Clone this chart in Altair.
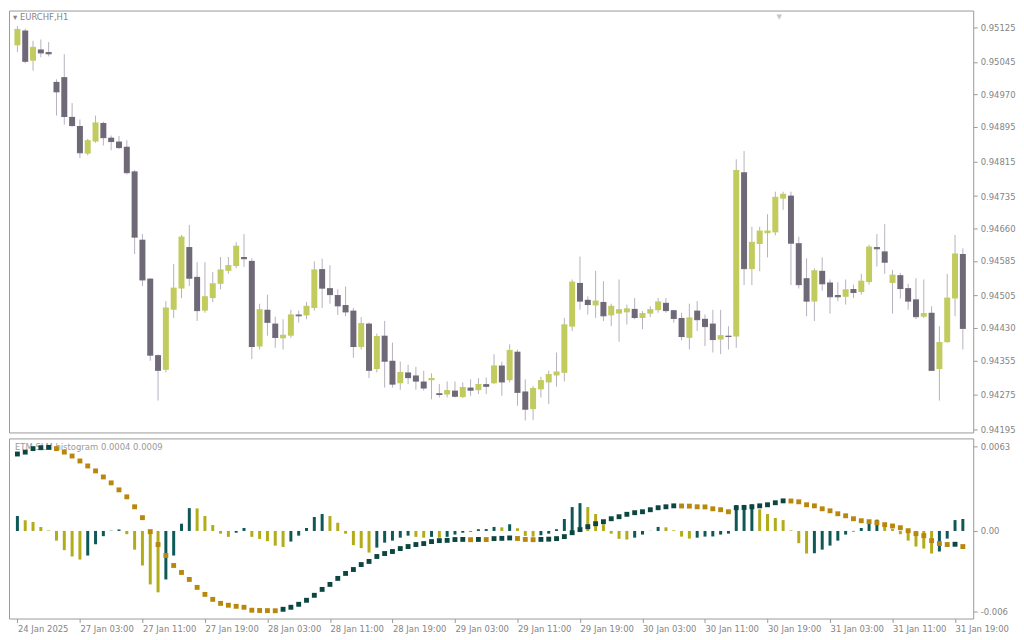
import json
import altair as alt
import pandas as pd

# ---------------- data (EURCHF, H1) ----------------
opens = [0.95084, 0.95118, 0.95048, 0.95074, 0.95068, 0.94999, 0.95010, 0.94918, 0.94897, 0.94833,
         0.94861, 0.94904, 0.94870, 0.94861, 0.94849, 0.94792, 0.94634, 0.94544, 0.94367, 0.94333,
         0.94472, 0.94521, 0.94617, 0.94548, 0.94470, 0.94499, 0.94532, 0.94562, 0.94573, 0.94594,
         0.94585, 0.94387, 0.94472, 0.94440, 0.94406, 0.94412, 0.94461, 0.94459, 0.94476, 0.94566,
         0.94522, 0.94506, 0.94483, 0.94470, 0.94386, 0.94440, 0.94335, 0.94412, 0.94354, 0.94302,
         0.94327, 0.94320, 0.94306, 0.94309, 0.94279, 0.94276, 0.94285, 0.94270, 0.94292, 0.94286,
         0.94300, 0.94302, 0.94343, 0.94309, 0.94375, 0.94283, 0.94242, 0.94288, 0.94304, 0.94320,
         0.94326, 0.94433, 0.94534, 0.94495, 0.94482, 0.94490, 0.94459, 0.94463, 0.94466, 0.94474,
         0.94453, 0.94463, 0.94471, 0.94488, 0.94471, 0.94453, 0.94407, 0.94470, 0.94451, 0.94440,
         0.94403, 0.94412, 0.94410, 0.94790, 0.94566, 0.94624, 0.94649, 0.94651, 0.94729, 0.94736,
         0.94626, 0.94545, 0.94491, 0.94562, 0.94535, 0.94506, 0.94502, 0.94520, 0.94513, 0.94536,
         0.94617, 0.94607, 0.94534, 0.94552, 0.94522, 0.94496, 0.94456, 0.94465, 0.94335, 0.94397,
         0.94498, 0.94601]
highs = [0.95128, 0.95122, 0.95094, 0.95097, 0.95091, 0.95005, 0.95063, 0.94950, 0.94912, 0.94867,
         0.94921, 0.94907, 0.94875, 0.94874, 0.94864, 0.94795, 0.94647, 0.94545, 0.94369, 0.94492,
         0.94578, 0.94645, 0.94668, 0.94582, 0.94582, 0.94559, 0.94594, 0.94594, 0.94628, 0.94647,
         0.94591, 0.94486, 0.94507, 0.94456, 0.94450, 0.94472, 0.94470, 0.94490, 0.94584, 0.94590,
         0.94575, 0.94519, 0.94526, 0.94476, 0.94455, 0.94443, 0.94417, 0.94446, 0.94396, 0.94352,
         0.94345, 0.94340, 0.94331, 0.94325, 0.94300, 0.94306, 0.94306, 0.94304, 0.94311, 0.94314,
         0.94315, 0.94369, 0.94352, 0.94392, 0.94380, 0.94311, 0.94296, 0.94317, 0.94331, 0.94373,
         0.94453, 0.94542, 0.94595, 0.94503, 0.94562, 0.94538, 0.94486, 0.94542, 0.94484, 0.94499,
         0.94469, 0.94480, 0.94499, 0.94499, 0.94472, 0.94465, 0.94486, 0.94492, 0.94461, 0.94472,
         0.94472, 0.94434, 0.94820, 0.94839, 0.94664, 0.94664, 0.94693, 0.94745, 0.94745, 0.94745,
         0.94641, 0.94591, 0.94568, 0.94593, 0.94542, 0.94536, 0.94542, 0.94530, 0.94555, 0.94622,
         0.94647, 0.94670, 0.94564, 0.94557, 0.94532, 0.94545, 0.94542, 0.94480, 0.94434, 0.94555,
         0.94645, 0.94614]
lows = [0.95068, 0.95042, 0.95025, 0.95056, 0.95058, 0.94921, 0.94900, 0.94895, 0.94823, 0.94829,
        0.94858, 0.94852, 0.94841, 0.94844, 0.94785, 0.94601, 0.94527, 0.94354, 0.94262, 0.94327,
        0.94453, 0.94499, 0.94527, 0.94446, 0.94465, 0.94490, 0.94519, 0.94555, 0.94568, 0.94571,
        0.94358, 0.94380, 0.94412, 0.94384, 0.94380, 0.94407, 0.94442, 0.94450, 0.94470, 0.94476,
        0.94486, 0.94460, 0.94457, 0.94361, 0.94380, 0.94314, 0.94327, 0.94292, 0.94292, 0.94287,
        0.94300, 0.94287, 0.94285, 0.94265, 0.94269, 0.94269, 0.94269, 0.94268, 0.94273, 0.94277,
        0.94277, 0.94300, 0.94273, 0.94304, 0.94250, 0.94216, 0.94217, 0.94269, 0.94254, 0.94294,
        0.94306, 0.94423, 0.94472, 0.94461, 0.94453, 0.94446, 0.94434, 0.94398, 0.94438, 0.94450,
        0.94427, 0.94455, 0.94465, 0.94465, 0.94442, 0.94401, 0.94380, 0.94423, 0.94388, 0.94373,
        0.94369, 0.94380, 0.94384, 0.94529, 0.94529, 0.94561, 0.94593, 0.94644, 0.94703, 0.94529,
        0.94521, 0.94457, 0.94446, 0.94516, 0.94463, 0.94492, 0.94484, 0.94499, 0.94507, 0.94530,
        0.94572, 0.94555, 0.94463, 0.94498, 0.94472, 0.94450, 0.94453, 0.94331, 0.94262, 0.94396,
        0.94457, 0.94380]
closes = [0.95120, 0.95047, 0.95079, 0.95066, 0.95064, 0.94976, 0.94919, 0.94898, 0.94835, 0.94863,
          0.94904, 0.94870, 0.94861, 0.94847, 0.94789, 0.94640, 0.94541, 0.94367, 0.94332, 0.94476,
          0.94522, 0.94640, 0.94545, 0.94470, 0.94502, 0.94532, 0.94564, 0.94574, 0.94619, 0.94590,
          0.94387, 0.94472, 0.94443, 0.94408, 0.94413, 0.94460, 0.94458, 0.94480, 0.94564, 0.94522,
          0.94507, 0.94481, 0.94467, 0.94387, 0.94440, 0.94332, 0.94410, 0.94353, 0.94300, 0.94327,
          0.94315, 0.94307, 0.94291, 0.94313, 0.94276, 0.94285, 0.94272, 0.94292, 0.94286, 0.94299,
          0.94295, 0.94342, 0.94305, 0.94378, 0.94281, 0.94242, 0.94290, 0.94308, 0.94322, 0.94328,
          0.94437, 0.94536, 0.94492, 0.94484, 0.94492, 0.94458, 0.94480, 0.94472, 0.94474, 0.94454,
          0.94463, 0.94472, 0.94490, 0.94470, 0.94452, 0.94410, 0.94453, 0.94449, 0.94433, 0.94403,
          0.94412, 0.94410, 0.94794, 0.94567, 0.94628, 0.94654, 0.94654, 0.94732, 0.94739, 0.94626,
          0.94530, 0.94492, 0.94562, 0.94532, 0.94502, 0.94502, 0.94518, 0.94512, 0.94538, 0.94617,
          0.94613, 0.94582, 0.94552, 0.94521, 0.94492, 0.94456, 0.94463, 0.94332, 0.94396, 0.94499,
          0.94601, 0.94429]

# indicator: histogram and signal (square dots)
hist = [0.00111, 0.00079, 0.00067, 0.00030, 0.00004, -0.00072, -0.00143, -0.00190, -0.00213, -0.00183,
        -0.00099, -0.00039, 0.00002, 0.00011, -0.00024, -0.00139, -0.00257, -0.00398, -0.00457, -0.00361,
        -0.00183, 0.00054, 0.00170, 0.00168, 0.00111, 0.00044, -0.00020, -0.00044, -0.00013, 0.00022,
        -0.00044, -0.00059, -0.00076, -0.00109, -0.00119, -0.00079, -0.00035, 0.00022, 0.00104, 0.00126,
        0.00111, 0.00061, -0.00020, -0.00106, -0.00128, -0.00161, -0.00124, -0.00087, -0.00072, -0.00050,
        -0.00035, -0.00044, -0.00050, -0.00044, -0.00050, -0.00044, -0.00027, -0.00013, -0.00005, 0.00013,
        0.00014, 0.00030, 0.00027, 0.00050, 0.00020, -0.00037, -0.00042, -0.00032, -0.00020, 0.00013,
        0.00089, 0.00178, 0.00207, 0.00178, 0.00126, 0.00050, -0.00020, -0.00059, -0.00064, -0.00050,
        -0.00027, 0.00001, 0.00030, 0.00027, 0.00005, -0.00042, -0.00057, -0.00050, -0.00042, -0.00041,
        -0.00027, -0.00020, 0.00193, 0.00194, 0.00198, 0.00161, 0.00126, 0.00096, 0.00081, 0.00004,
        -0.00091, -0.00168, -0.00166, -0.00139, -0.00109, -0.00072, -0.00027, -0.00004, 0.00022, 0.00052,
        0.00084, 0.00044, 0.00015, -0.00024, -0.00072, -0.00116, -0.00131, -0.00168, -0.00153, -0.00057,
        0.00081, 0.00089]
signal = [0.00573, 0.00587, 0.00613, 0.00620, 0.00622, 0.00613, 0.00587, 0.00558, 0.00521, 0.00484,
          0.00447, 0.00402, 0.00358, 0.00306, 0.00254, 0.00180, 0.00099, -0.00005, -0.00101, -0.00183,
          -0.00257, -0.00309, -0.00361, -0.00420, -0.00472, -0.00509, -0.00539, -0.00553, -0.00561, -0.00568,
          -0.00590, -0.00592, -0.00593, -0.00594, -0.00583, -0.00568, -0.00546, -0.00516, -0.00479, -0.00435,
          -0.00398, -0.00353, -0.00316, -0.00287, -0.00250, -0.00227, -0.00190, -0.00168, -0.00153, -0.00131,
          -0.00116, -0.00101, -0.00094, -0.00079, -0.00072, -0.00070, -0.00064, -0.00063, -0.00065, -0.00063,
          -0.00064, -0.00057, -0.00055, -0.00052, -0.00056, -0.00063, -0.00065, -0.00063, -0.00061, -0.00057,
          -0.00042, -0.00013, 0.00010, 0.00032, 0.00054, 0.00069, 0.00091, 0.00106, 0.00124, 0.00136,
          0.00143, 0.00158, 0.00173, 0.00180, 0.00187, 0.00186, 0.00185, 0.00180, 0.00179, 0.00165,
          0.00158, 0.00143, 0.00173, 0.00175, 0.00180, 0.00187, 0.00195, 0.00210, 0.00224, 0.00223,
          0.00217, 0.00195, 0.00187, 0.00165, 0.00150, 0.00128, 0.00113, 0.00091, 0.00076, 0.00069,
          0.00061, 0.00047, 0.00037, 0.00024, 0.00002, -0.00020, -0.00035, -0.00072, -0.00094, -0.00101,
          -0.00099, -0.00116]

price_ticks = [0.95125, 0.95045, 0.94970, 0.94895, 0.94815, 0.94735, 0.94660,
               0.94585, 0.94505, 0.94430, 0.94355, 0.94275, 0.94195]
price_tick_labels = ["0.95125", "0.95045", "0.94970", "0.94895", "0.94815", "0.94735", "0.94660",
                     "0.94585", "0.94505", "0.94430", "0.94355", "0.94275", "0.94195"]
ind_ticks = [0.0063, 0.0, -0.006]
ind_tick_labels = ["0.0063", "0.00", "-0.006"]
time_ticks = [0, 8, 16, 24, 32, 40, 48, 56, 64, 72, 80, 88, 96, 104, 112, 120]
time_labels = ["24 Jan 2025", "27 Jan 03:00", "27 Jan 11:00", "27 Jan 19:00", "28 Jan 03:00",
               "28 Jan 11:00", "28 Jan 19:00", "29 Jan 03:00", "29 Jan 11:00", "29 Jan 19:00",
               "30 Jan 03:00", "30 Jan 11:00", "30 Jan 19:00", "31 Jan 03:00", "31 Jan 11:00",
               "31 Jan 19:00"]

symbol_title = "\u25BE EURCHF,H1"
indicator_title = "ETM SLM histogram 0.0004 0.0009"

# ---------------- table ----------------
df = pd.DataFrame({"i": list(range(len(opens))), "open": opens, "high": highs,
                   "low": lows, "close": closes, "hist": hist, "sig": signal})
df["zero"] = 0.0
df["cdir"] = ["up" if c >= o else "down" for o, c in zip(opens, closes)]
hd = df["hist"].diff().fillna(1.0)
sd = df["sig"].diff().fillna(1.0)
df["hdir"] = ["up" if v > 0 else "down" for v in hd]
df["sdir"] = ["up" if v > 0 else "down" for v in sd]

BULL = "#c1cb5e"
BEAR = "#6e6877"
WICK = "#b5b1bd"
H_UP = "#0e5958"
H_DN = "#b2ac18"
S_UP = "#0b4641"
S_DN = "#b8870c"
GREY = "#858585"
FRAME = "#9a9a9a"
FONT = "DejaVu Sans"

W = 969
xscale = alt.Scale(domain=[-0.44, 121.69], nice=False, zero=False)
pscale = alt.Scale(domain=[0.941882, 0.951640], nice=False, zero=False)
iscale = alt.Scale(domain=[-0.006519, 0.006889], nice=False, zero=False)


def lookup_expr(labels, values):
    return json.dumps(labels) + "[indexof(" + json.dumps(values) + ", datum.value)]"


price_axis = alt.Axis(orient="right", values=price_ticks,
                      labelExpr=lookup_expr(price_tick_labels, price_ticks), title=None,
                      grid=False, domain=False, tickColor=FRAME, tickSize=4,
                      labelPadding=3, labelColor=GREY, labelFont=FONT, labelFontSize=8.5,
                      labelOverlap=False, labelFlush=False)
ind_axis = alt.Axis(orient="right", values=ind_ticks,
                    labelExpr=lookup_expr(ind_tick_labels, ind_ticks), title=None,
                    grid=False, domain=False, tickColor=FRAME, tickSize=4, labelPadding=3,
                    labelColor=GREY, labelFont=FONT, labelFontSize=8.5, labelOverlap=False,
                    labelFlush=False)
time_axis = alt.Axis(values=time_ticks, labelExpr=lookup_expr(time_labels, time_ticks),
                     title=None, grid=False,
                     domain=False, tickColor=FRAME, tickSize=4, labelPadding=2, labelAlign="left",
                     labelColor=GREY, labelFont=FONT, labelFontSize=8.5, labelFlush=False,
                     labelOverlap=False)

X = alt.X("i:Q", scale=xscale, axis=None)
XI = alt.X("i:Q", scale=xscale, axis=time_axis)


def PY(field):
    return alt.Y(field, scale=pscale, axis=price_axis)


def IY(field):
    return alt.Y(field, scale=iscale, axis=ind_axis)


base = alt.Chart(df)

wicks = base.mark_rule(color=WICK, strokeWidth=1).encode(x=X, y=PY("low:Q"), y2="high:Q")
bodies_up = base.transform_filter(alt.datum.cdir == "up").mark_bar(size=6, color=BULL).encode(
    x=X, y=PY("open:Q"), y2="close:Q")
bodies_dn = base.transform_filter(alt.datum.cdir == "down").mark_bar(size=6, color=BEAR).encode(
    x=X, y=PY("open:Q"), y2="close:Q")
close_up = base.transform_filter(alt.datum.cdir == "up").mark_tick(
    orient="horizontal", thickness=1, size=6, color=BULL, opacity=1).encode(x=X, y=PY("close:Q"))
close_dn = base.transform_filter(alt.datum.cdir == "down").mark_tick(
    orient="horizontal", thickness=1, size=6, color=BEAR, opacity=1).encode(x=X, y=PY("close:Q"))

title_txt = alt.Chart(pd.DataFrame({"t": [symbol_title]})).mark_text(
    align="left", baseline="middle", font=FONT, fontSize=8.5, color=GREY).encode(
    x=alt.value(4), y=alt.value(7), text="t:N")
shift_mark = alt.Chart(pd.DataFrame({"t": ["\u25BC"]})).mark_text(
    align="center", baseline="top", font=FONT, fontSize=7, color="#c8c8c8").encode(
    x=alt.value(774), y=alt.value(2), text="t:N")

price = alt.layer(wicks, bodies_up, bodies_dn, close_up, close_dn, title_txt, shift_mark).properties(
    width=W, height=424)

ind_txt = alt.Chart(pd.DataFrame({"t": [indicator_title]})).mark_text(
    align="left", baseline="middle", font=FONT, fontSize=8.5, color="#9a9a9a").encode(
    x=alt.value(6), y=alt.value(9), text="t:N")
hist_up = base.transform_filter(alt.datum.hdir == "up").mark_bar(size=3, color=H_UP).encode(
    x=XI, y=IY("hist:Q"), y2="zero:Q")
hist_dn = base.transform_filter(alt.datum.hdir == "down").mark_bar(size=3, color=H_DN).encode(
    x=XI, y=IY("hist:Q"), y2="zero:Q")
sig_up = base.transform_filter(alt.datum.sdir == "up").mark_square(
    size=24, filled=True, opacity=1, color=S_UP).encode(x=XI, y=IY("sig:Q"))
sig_dn = base.transform_filter(alt.datum.sdir == "down").mark_square(
    size=24, filled=True, opacity=1, color=S_DN).encode(x=XI, y=IY("sig:Q"))

indicator = alt.layer(ind_txt, hist_up, hist_dn, sig_up, sig_dn).properties(width=W, height=181)

chart = alt.vconcat(price, indicator, spacing=2).properties(
    padding=0, background="#ffffff"
).configure_view(stroke=FRAME, strokeWidth=1)

chart.save("out.html", embed_options={"renderer": "svg", "actions": False})
